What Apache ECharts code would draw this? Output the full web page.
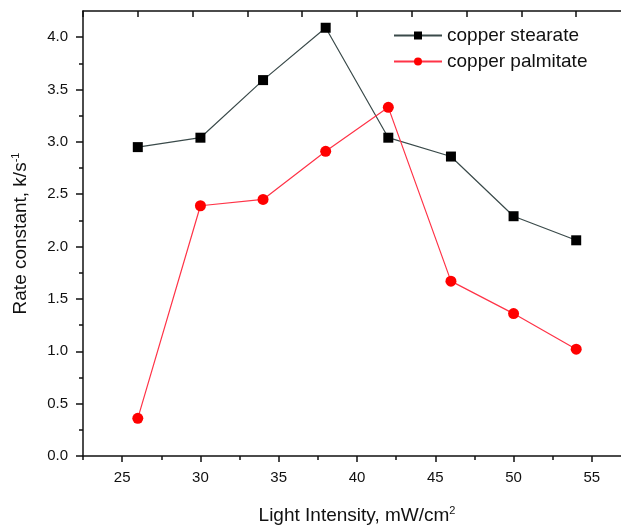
<!DOCTYPE html>
<html lang="en">
<head>
    <meta charset="UTF-8">
    <title>Rate constant vs light intensity</title>
    <script src="https://cdn.jsdelivr.net/npm/echarts@6/dist/echarts.min.js"></script>
    <style>
        html, body { margin: 0; padding: 0; background: #fff; }
        #chart { width: 621px; height: 525px; }
    </style>
</head>
<body>
    <div id="chart"></div>
    <script>
        // light intensity, mW/cm2
        var intensity = [26, 30, 34, 38, 42, 46, 50, 54];
        // rate constants, k/s^-1
        var stearate = [2.95, 3.04, 3.59, 4.09, 3.04, 2.86, 2.29, 2.06];
        var palmitate = [0.36, 2.39, 2.45, 2.91, 3.33, 1.67, 1.36, 1.02];
        var seriesNames = ['copper stearate', 'copper palmitate'];
        var xTicks = [25, 30, 35, 40, 45, 50, 55];
        var xMinorTicks = [22.5, 27.5, 32.5, 37.5, 42.5, 47.5, 52.5, 57.5];
        var yTicks = [0, 0.5, 1.0, 1.5, 2.0, 2.5, 3.0, 3.5, 4.0];

        function pairs(xs, ys) {
            return xs.map(function(x, i) { return [x, ys[i]]; });
        }

        var font = 'Liberation Sans, Arial, sans-serif';
        var ink = '#111';
        var tickLine = { color: ink, width: 1.5 };
        var supStyle = { fontSize: 11, verticalAlign: 'top', padding: [0, 0, 11, 0], color: ink };

        var chart = echarts.init(document.getElementById('chart'));
        chart.setOption({
            animation: false,
            backgroundColor: '#fff',
            grid: { left: 83, top: 11, width: 548, height: 445, outerBoundsMode: 'none', containLabel: false },
            legend: {
                left: 388, top: 21, orient: 'vertical',
                itemWidth: 48, itemHeight: 10, itemGap: 7,
                textStyle: { fontFamily: font, fontSize: 19, color: ink },
                data: seriesNames
            },
            xAxis: [{
                type: 'value', min: 22.5, max: 57.5,
                name: 'Light Intensity, mW/cm{sup|2}',
                nameLocation: 'middle', nameGap: 49,
                nameTextStyle: { fontFamily: font, fontSize: 19, color: ink, rich: { sup: supStyle } },
                axisLine: { lineStyle: tickLine },
                axisTick: { inside: false, length: 6, customValues: xTicks, lineStyle: tickLine },
                axisLabel: { fontFamily: font, fontSize: 15, color: ink, margin: 14, customValues: xTicks },
                splitLine: { show: false }
            }, {
                // minor ticks on the bottom axis
                type: 'value', min: 22.5, max: 57.5, position: 'bottom',
                axisLine: { show: false },
                axisTick: { inside: false, length: 4, customValues: xMinorTicks, lineStyle: tickLine },
                axisLabel: { show: false },
                splitLine: { show: false }
            }, {
                // mirrored top frame with its own tick spacing
                type: 'value', position: 'top', min: 0, max: 10, interval: 1,
                axisLine: { show: true, onZero: false, lineStyle: tickLine },
                axisTick: { show: true, inside: true, length: 6, lineStyle: tickLine },
                axisLabel: { show: false },
                splitLine: { show: false }
            }],
            yAxis: {
                type: 'value', min: 0, max: 4.25, interval: 0.5,
                name: 'Rate constant, k/s{sup|-1}',
                nameLocation: 'middle', nameGap: 51, nameRotate: 90,
                nameTextStyle: { fontFamily: font, fontSize: 19, color: ink, rich: { sup: supStyle } },
                axisLine: { show: true, lineStyle: tickLine },
                axisTick: { inside: false, length: 7, customValues: yTicks, lineStyle: tickLine },
                minorTick: { show: true, splitNumber: 2, length: 4, lineStyle: tickLine },
                axisLabel: { fontFamily: font, fontSize: 15, color: ink, margin: 15, customValues: yTicks,
                    formatter: function(v) { return v.toFixed(1); } },
                splitLine: { show: false }
            },
            series: [{
                name: seriesNames[0], type: 'line',
                data: pairs(intensity, stearate),
                symbol: 'rect', symbolSize: 10,
                lineStyle: { color: '#3a4a4a', width: 1.2 },
                itemStyle: { color: '#000' }
            }, {
                name: seriesNames[1], type: 'line',
                data: pairs(intensity, palmitate),
                symbol: 'circle', symbolSize: 11,
                lineStyle: { color: '#ff3347', width: 1.2 },
                itemStyle: { color: '#ff0000' }
            }]
        });
    </script>
</body>
</html>
